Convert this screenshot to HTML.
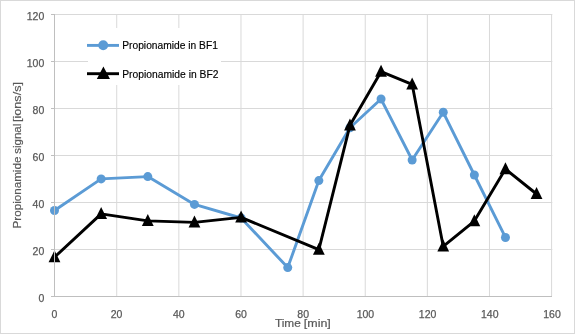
<!DOCTYPE html><html><head><meta charset="utf-8"><style>html,body{margin:0;padding:0;background:#fff;width:575px;height:334px;overflow:hidden}svg{display:block;will-change:transform}text{font-family:"Liberation Sans",sans-serif}</style></head><body>
<svg width="575" height="334" viewBox="0 0 575 334">
<rect x="0" y="0" width="575" height="334" fill="#fff"/>
<rect x="0.5" y="0.5" width="574" height="333" fill="none" stroke="#D9D9D9" stroke-width="1"/>
<path d="M116.725 14 V296 M178.850 14 V296 M240.975 14 V296 M303.100 14 V296 M365.225 14 V296 M427.350 14 V296 M489.475 14 V296 M551.600 14 V296 M55 249.5 H552.3 M55 202.5 H552.3 M55 155.5 H552.3 M55 108.5 H552.3 M55 61.5 H552.3 M55 14.5 H552.3" stroke="#D9D9D9" stroke-width="1" fill="none"/>
<path d="M51 296.5 H55 M51 249.5 H55 M51 202.5 H55 M51 155.5 H55 M51 108.5 H55 M51 61.5 H55 M51 14.5 H55" stroke="#BFBFBF" stroke-width="1" fill="none"/>
<polyline points="54.50,210.50 101.15,178.90 147.80,176.60 194.45,204.40 241.10,218.00 287.75,267.60 318.85,180.60 349.95,127.80 381.05,99.05 412.15,160.00 443.25,112.30 474.35,175.00 505.45,237.45" fill="none" stroke="#5B9BD5" stroke-width="2.9" stroke-linejoin="round" stroke-linecap="round"/>
<g fill="#5B9BD5"><circle cx="54.50" cy="210.50" r="4.5"/><circle cx="101.15" cy="178.90" r="4.5"/><circle cx="147.80" cy="176.60" r="4.5"/><circle cx="194.45" cy="204.40" r="4.5"/><circle cx="241.10" cy="218.00" r="4.5"/><circle cx="287.75" cy="267.60" r="4.5"/><circle cx="318.85" cy="180.60" r="4.5"/><circle cx="349.95" cy="127.80" r="4.5"/><circle cx="381.05" cy="99.05" r="4.5"/><circle cx="412.15" cy="160.00" r="4.5"/><circle cx="443.25" cy="112.30" r="4.5"/><circle cx="474.35" cy="175.00" r="4.5"/><circle cx="505.45" cy="237.45" r="4.5"/></g>
<polyline points="54.50,257.20 101.15,213.90 147.80,220.90 194.45,222.40 241.10,217.40 318.85,249.60 349.95,125.30 381.05,71.70 412.15,84.30 443.25,246.40 474.35,221.10 505.45,169.10 536.55,194.00" fill="none" stroke="#000" stroke-width="2.9" stroke-linejoin="round" stroke-linecap="round"/>
<g fill="#000"><path d="M54.50 250.30 L60.40 262.30 L48.60 262.30 Z"/><path d="M101.15 207.00 L107.05 219.00 L95.25 219.00 Z"/><path d="M147.80 214.00 L153.70 226.00 L141.90 226.00 Z"/><path d="M194.45 215.50 L200.35 227.50 L188.55 227.50 Z"/><path d="M241.10 210.50 L247.00 222.50 L235.20 222.50 Z"/><path d="M318.85 242.70 L324.75 254.70 L312.95 254.70 Z"/><path d="M349.95 118.40 L355.85 130.40 L344.05 130.40 Z"/><path d="M381.05 64.80 L386.95 76.80 L375.15 76.80 Z"/><path d="M412.15 77.40 L418.05 89.40 L406.25 89.40 Z"/><path d="M443.25 239.50 L449.15 251.50 L437.35 251.50 Z"/><path d="M474.35 214.20 L480.25 226.20 L468.45 226.20 Z"/><path d="M505.45 162.20 L511.35 174.20 L499.55 174.20 Z"/><path d="M536.55 187.10 L542.45 199.10 L530.65 199.10 Z"/></g>
<path d="M54.5 14 V297 M51 296.5 H552" stroke="#BFBFBF" stroke-width="1" fill="none"/>
<text x="44.3" y="302.00" text-anchor="end" font-size="10.5" fill="#595959" stroke="#595959" stroke-width="0.25">0</text>
<text x="44.3" y="255.00" text-anchor="end" font-size="10.5" fill="#595959" stroke="#595959" stroke-width="0.25">20</text>
<text x="44.3" y="208.00" text-anchor="end" font-size="10.5" fill="#595959" stroke="#595959" stroke-width="0.25">40</text>
<text x="44.3" y="161.00" text-anchor="end" font-size="10.5" fill="#595959" stroke="#595959" stroke-width="0.25">60</text>
<text x="44.3" y="114.00" text-anchor="end" font-size="10.5" fill="#595959" stroke="#595959" stroke-width="0.25">80</text>
<text x="44.3" y="67.00" text-anchor="end" font-size="10.5" fill="#595959" stroke="#595959" stroke-width="0.25">100</text>
<text x="44.3" y="20.00" text-anchor="end" font-size="10.5" fill="#595959" stroke="#595959" stroke-width="0.25">120</text>
<text x="54.40" y="318" text-anchor="middle" font-size="10.5" fill="#595959" stroke="#595959" stroke-width="0.25">0</text>
<text x="116.60" y="318" text-anchor="middle" font-size="10.5" fill="#595959" stroke="#595959" stroke-width="0.25">20</text>
<text x="178.80" y="318" text-anchor="middle" font-size="10.5" fill="#595959" stroke="#595959" stroke-width="0.25">40</text>
<text x="241.00" y="318" text-anchor="middle" font-size="10.5" fill="#595959" stroke="#595959" stroke-width="0.25">60</text>
<text x="303.20" y="318" text-anchor="middle" font-size="10.5" fill="#595959" stroke="#595959" stroke-width="0.25">80</text>
<text x="365.40" y="318" text-anchor="middle" font-size="10.5" fill="#595959" stroke="#595959" stroke-width="0.25">100</text>
<text x="427.60" y="318" text-anchor="middle" font-size="10.5" fill="#595959" stroke="#595959" stroke-width="0.25">120</text>
<text x="489.80" y="318" text-anchor="middle" font-size="10.5" fill="#595959" stroke="#595959" stroke-width="0.25">140</text>
<text x="552.00" y="318" text-anchor="middle" font-size="10.5" fill="#595959" stroke="#595959" stroke-width="0.25">160</text>
<g font-size="11.2"><text x="274.93" y="326.7" fill="#595959" stroke="#595959" stroke-width="0.2" lengthAdjust="spacingAndGlyphs" textLength="25.94">Time</text>
<text x="303.87" y="326.7" fill="#595959" stroke="#595959" stroke-width="0.2" lengthAdjust="spacingAndGlyphs" textLength="26.97">[min]</text></g>
<g transform="translate(21.2,0) rotate(-90)" font-size="11.6"><text x="-228.48" y="0" fill="#595959" stroke="#595959" stroke-width="0.2" lengthAdjust="spacingAndGlyphs" textLength="71.9">Propionamide</text><text x="-153.76" y="0" fill="#595959" stroke="#595959" stroke-width="0.2" lengthAdjust="spacingAndGlyphs" textLength="30.0">signal</text><text x="-122.05" y="0" fill="#595959" stroke="#595959" stroke-width="0.2" lengthAdjust="spacingAndGlyphs" textLength="40.04">[ions/s]</text></g>
<rect x="88" y="28" width="133" height="57" fill="#fff"/>
<path d="M87 45.4 H119" stroke="#5B9BD5" stroke-width="2.9"/>
<circle cx="103.2" cy="45.3" r="4.95" fill="#5B9BD5"/>
<path d="M87 73.7 H119" stroke="#000" stroke-width="2.9"/>
<path d="M103.4 66.6 L110 79 L96.8 79 Z" fill="#000"/>
<text x="122.26" y="48.9" font-size="10.1" fill="#000" stroke="#000" stroke-width="0.15" textLength="95.6" lengthAdjust="spacingAndGlyphs">Propionamide in BF1</text>
<text x="122.26" y="77.6" font-size="10.1" fill="#000" stroke="#000" stroke-width="0.15" textLength="96.2" lengthAdjust="spacingAndGlyphs">Propionamide in BF2</text>
</svg></body></html>
